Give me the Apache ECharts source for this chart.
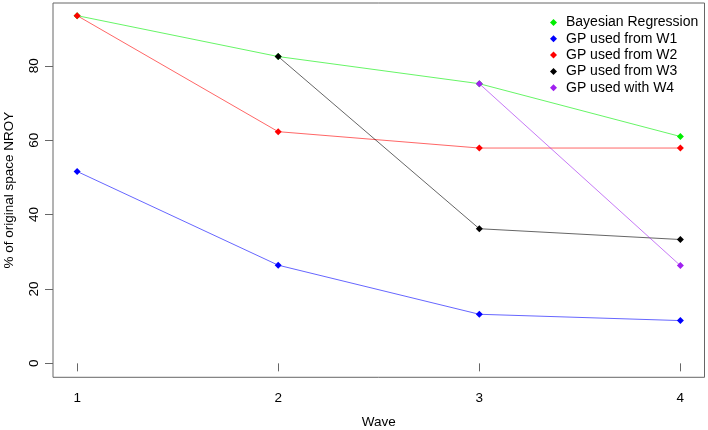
<!DOCTYPE html>
<html>
<head>
<meta charset="utf-8">
<script src="https://cdn.jsdelivr.net/npm/echarts@6/dist/echarts.min.js"></script>
<style>
html,body{margin:0;padding:0;background:#fff;}
#chart{width:708px;height:430px;}
</style>
</head>
<body>
<div id="chart"></div>
<script>
var waves = [1, 2, 3, 4];
var seriesNames = ['Bayesian Regression', 'GP used from W1', 'GP used from W2', 'GP used from W3', 'GP used with W4'];
var bayesian = [93.5, 82.5, 75.2, 61.0];
var gpW1 = [51.6, 26.4, 13.2, 11.5];
var gpW2 = [93.5, 62.3, 57.9, 57.9];
var gpW3 = [null, 82.5, 36.2, 33.3];
var gpW4 = [null, null, 75.2, 26.3];
var xTicks = [1, 2, 3, 4];
var yTicks = [0, 20, 40, 60, 80];
var colors = ['#00ee00', '#0000ff', '#ff0000', '#000000', '#a020f0'];

var allData = [bayesian, gpW1, gpW2, gpW3, gpW4];
var FONT = '"Liberation Sans", Arial, sans-serif';

var series = allData.map(function (vals, i) {
  var pts = [];
  vals.forEach(function (v, j) { if (v !== null) pts.push([waves[j], v]); });
  return {
    name: seriesNames[i],
    type: 'line',
    data: pts,
    symbol: 'diamond',
    symbolSize: 7,
    showSymbol: true,
    itemStyle: { color: colors[i] },
    lineStyle: { color: colors[i], width: 1, opacity: 0.6 },
    emphasis: { disabled: true },
    animation: false,
    z: 2 + i
  };
});

var chart = echarts.init(document.getElementById('chart'), null, { renderer: 'canvas' });
chart.setOption({
  animation: false,
  backgroundColor: '#ffffff',
  color: colors,
  grid: {
    left: 53, right: 3.5, top: 3, bottom: 52.7,
    containLabel: false,
    outerBoundsMode: 'none',
    show: true, borderColor: '#666', borderWidth: 1, backgroundColor: 'transparent'
  },
  legend: {
    orient: 'vertical',
    left: 545, top: 10.5,
    icon: 'diamond',
    itemWidth: 7, itemHeight: 7,
    itemGap: 2.3,
    data: seriesNames,
    textStyle: { fontFamily: FONT, fontSize: 14, color: '#000', lineHeight: 14, padding: [0, 0, 0, 4] }
  },
  xAxis: {
    type: 'value',
    min: 0.88, max: 4.12,
    name: 'Wave',
    nameLocation: 'middle',
    nameGap: 38,
    nameTextStyle: { fontFamily: FONT, fontSize: 13.5, color: '#000' },
    splitLine: { show: false },
    axisLine: { show: false },
    axisTick: { show: true, inside: false, length: 8, lineStyle: { color: '#666' }, customValues: xTicks },
    axisLabel: { show: true, margin: 14, fontFamily: FONT, fontSize: 13.5, color: '#000', customValues: xTicks }
  },
  yAxis: {
    type: 'value',
    min: -3.75, max: 96.9,
    name: '% of original space NROY',
    nameLocation: 'middle',
    nameRotate: 90,
    nameGap: 37,
    nameTextStyle: { fontFamily: FONT, fontSize: 13.5, color: '#000' },
    splitLine: { show: false },
    axisLine: { show: false },
    axisTick: { show: true, inside: false, length: 8, lineStyle: { color: '#666' }, customValues: yTicks },
    axisLabel: { show: true, rotate: 90, margin: 12, fontFamily: FONT, fontSize: 13.5, color: '#000', customValues: yTicks }
  },
  series: series
});
</script>
</body>
</html>
